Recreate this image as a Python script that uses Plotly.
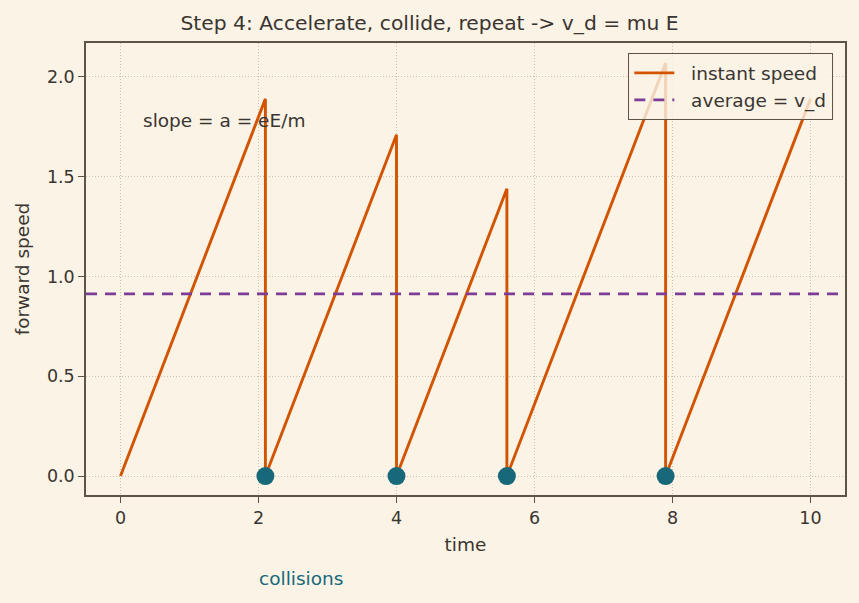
import plotly.graph_objects as go

# Data
time_pts = [0, 2.1, 2.1, 4.0, 4.0, 5.6, 5.6, 7.9, 7.9, 10.0]
speed_pts = [0, 1.89, 0, 1.71, 0, 1.44, 0, 2.07, 0, 1.89]
collision_t = [2.1, 4.0, 5.6, 7.9]
collision_v = [0, 0, 0, 0]
v_d = 0.913

BG = "#FAF3E6"
TXT = "#3A3530"
FRAME = "#5E5445"
ORANGE = "#D35400"
PURPLE = "#7D3C98"
TEAL = "#17697A"

fig = go.Figure()
fig.add_trace(go.Scatter(x=time_pts, y=speed_pts, mode="lines",
                         line=dict(color=ORANGE, width=2.9),
                         name="\u00a0\u00a0instant speed"))
fig.add_trace(go.Scatter(x=[-0.5, 10.5], y=[v_d, v_d], mode="lines",
                         line=dict(color=PURPLE, width=2.9, dash="11px,8px"),
                         name="\u00a0\u00a0average = v_d"))
fig.add_trace(go.Scatter(x=collision_t, y=collision_v, mode="markers",
                         marker=dict(color=TEAL, size=18),
                         name="collisions", showlegend=False))

fig.add_annotation(x=0.3, y=1.78, xref="x", yref="y", text="slope = a = eE/m",
                   showarrow=False, xanchor="left", yanchor="middle",
                   font=dict(size=18.5, color=TXT))
fig.add_annotation(x=(302 - 86) / 761, y=-(578 - 495) / 452, xref="paper", yref="paper",
                   text="collisions", showarrow=False, xanchor="center", yanchor="middle",
                   font=dict(size=18.5, color=TEAL))

axis_common = dict(showline=True, linecolor=FRAME, linewidth=1.5, mirror=True,
                   ticks="outside", ticklen=6, tickwidth=1.3, tickcolor=FRAME,
                   showgrid=True, gridcolor="#C9C3B5", griddash="1px,2px", gridwidth=1,
                   zeroline=False, tickfont=dict(size=17.5, color=TXT),
                   title_font=dict(size=18.5, color=TXT))

fig.update_xaxes(range=[-0.5, 10.5], tickvals=[0, 2, 4, 6, 8, 10],
                 title_text="time", title_standoff=11, **axis_common)
fig.update_yaxes(range=[-0.095, 2.17], tickvals=[0, 0.5, 1.0, 1.5, 2.0],
                 ticktext=["0.0", "0.5", "1.0", "1.5", "2.0"],
                 title_text="forward speed", title_standoff=12, **axis_common)

fig.update_layout(
    width=859, height=603,
    margin=dict(l=86, r=12, t=43, b=108),
    paper_bgcolor=BG, plot_bgcolor=BG,
    font=dict(family="DejaVu Sans", color=TXT),
    title=dict(text="Step 4: Accelerate, collide, repeat -> v_d = mu E",
               x=0.5, xanchor="center", y=1 - 23 / 603, yanchor="middle",
               font=dict(size=20.3, color=TXT)),
    legend=dict(x=(835 - 86) / 761, y=(495 - 53) / 452, xanchor="right", yanchor="top",
                bgcolor="rgba(250,243,230,0.8)", bordercolor=FRAME, borderwidth=1.3,
                itemwidth=40, tracegroupgap=0,
                font=dict(size=18.5, color=TXT)),
)

fig.write_html("out.html")
